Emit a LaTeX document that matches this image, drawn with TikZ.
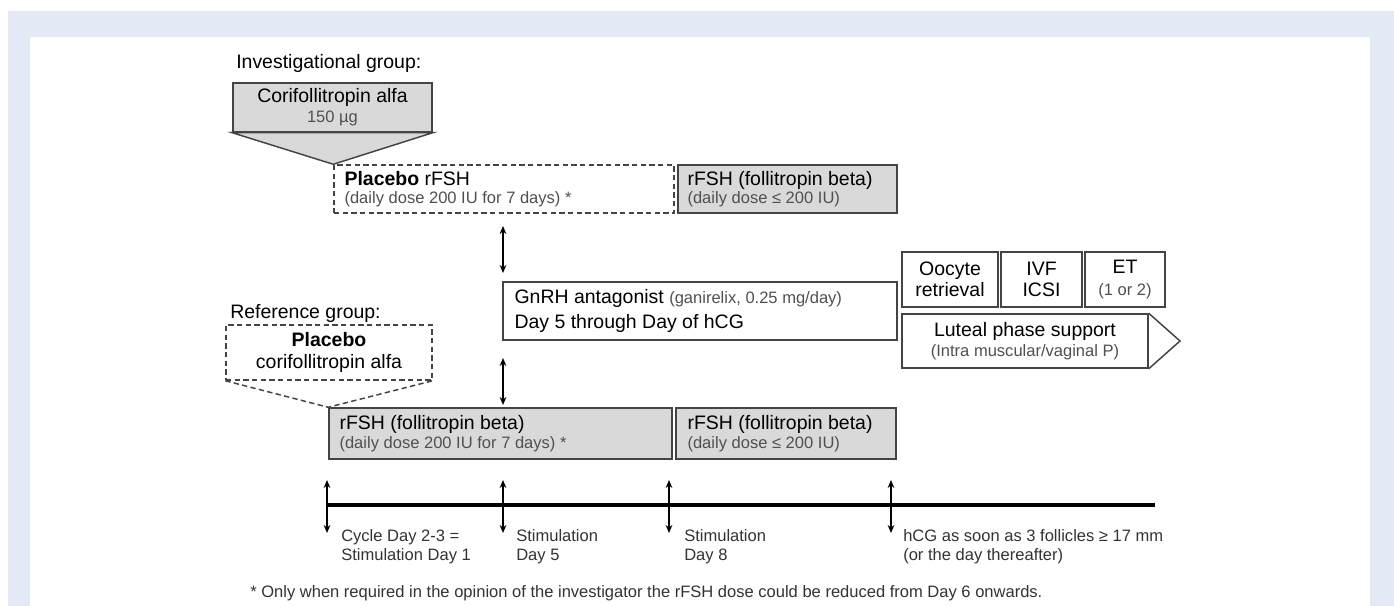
\documentclass[tikz,border=0pt]{standalone}
\usepackage{fontspec}
\setmainfont{Liberation Sans}
\usepackage{tikz}
\usetikzlibrary{arrows.meta, calc}

\definecolor{bgblue}{RGB}{228,234,245}
\definecolor{boxgray}{RGB}{217,217,217}
\definecolor{edgegray}{RGB}{68,68,68}
\definecolor{subgray}{RGB}{80,80,80}

\newcommand{\mainsz}{\fontsize{14.6}{14}\selectfont}
\newcommand{\subsz}{\fontsize{12.4}{14}\selectfont}
\newcommand{\pxu}{0.75pt}

\begin{document}
\begin{tikzpicture}[x=0.75pt, y=-0.75pt,
	box/.style={draw=edgegray, line width=1.1pt, inner sep=0pt},
	graybox/.style={box, fill=boxgray},
	dashbox/.style={box, dash pattern=on 4pt off 2.5pt, fill=white},
	txt/.style={inner sep=0pt, font=\mainsz, text=black},
	lab/.style={inner sep=0pt, font=\subsz, text=black!80, align=left},
	dblarrow/.style={{Stealth[length=6pt,width=5pt]}-{Stealth[length=6pt,width=5pt]}, line width=0.9pt}
]
	\useasboundingbox (0,0) rectangle (1394,606);
	\fill[bgblue] (8,11) rectangle (1394,606);
	\fill[white] (30,37) rectangle (1370,606);

	\node[txt, anchor=base west] (invlab) at (236,69) {Investigational group:};
	\node[dashbox, minimum width=340*\pxu, minimum height=48*\pxu] (plarfsh) at (504,189) {};
	\node[graybox, minimum width=219*\pxu, minimum height=48*\pxu] (rfshinv) at (787.5,189) {};
	\node[graybox, minimum width=199*\pxu, minimum height=49*\pxu] (cori) at (332.5,107.5) {};
	\filldraw[fill=boxgray, draw=edgegray, line width=1.1pt] (cori.south west) -- (plarfsh.north west) -- (cori.south east) -- cycle;
	\node[txt, align=center] (coritxt) at (cori) {Corifollitropin alfa\\[1pt]{\subsz\color{subgray}150 µg}};
	\node[txt, anchor=west, align=left] (plarfshtxt) at ($(plarfsh.west)+(11,0)$) {\textbf{Placebo} rFSH\\{\subsz\color{subgray}(daily dose 200 IU for 7 days) *}};
	\node[txt, anchor=west, align=left] (rfshinvtxt) at ($(rfshinv.west)+(10,0)$) {rFSH (follitropin beta)\\{\subsz\color{subgray}(daily dose ≤ 200 IU)}};

	\node[box, fill=white, minimum width=394*\pxu, minimum height=58*\pxu] (gnrh) at (700,311) {};
	\node[txt, anchor=west, align=left] (gnrhtxt) at ($(gnrh.west)+(12,0)$) {GnRH antagonist {\subsz\color{subgray}(ganirelix, 0.25 mg/day)}\\[5pt]Day 5 through Day of hCG};
	\coordinate (up1) at (503,226);
	\coordinate (dn1) at (503,273);
	\draw[dblarrow] (up1) -- (dn1);

	\node[box, minimum width=96*\pxu, minimum height=55*\pxu] (oocyte) at (950,279.5) {};
	\node[box, minimum width=81*\pxu, minimum height=55*\pxu] (ivf) at (1041.5,279.5) {};
	\node[box, minimum width=80*\pxu, minimum height=55*\pxu] (et) at (1125,279.5) {};
	\node[txt, align=center] (oocytetxt) at (oocyte) {Oocyte\\[2pt]retrieval};
	\node[txt, align=center] (ivftxt) at (ivf) {IVF\\[2pt]ICSI};
	\node[txt, align=center] (ettxt) at (et) {ET\\[2pt]{\subsz\color{subgray}(1 or 2)}};
	\node[box, minimum width=246*\pxu, minimum height=54*\pxu] (luteal) at (1025,341) {};
	\coordinate (lutip) at (1180,341);
	\draw[draw=edgegray, line width=1.1pt] (luteal.north east) -- (lutip) -- (luteal.south east);
	\node[txt, align=center] (luteatxt) at (luteal) {Luteal phase support\\[1pt]{\subsz\color{subgray}(Intra muscular/vaginal P)}};

	\node[txt, anchor=base west] (reflab) at (230,318) {Reference group:};
	\node[dashbox, minimum width=206*\pxu, minimum height=55*\pxu] (placori) at (329,352.5) {};
	\node[graybox, minimum width=343*\pxu, minimum height=51*\pxu] (rfshref) at (500.5,433.5) {};
	\node[graybox, minimum width=220*\pxu, minimum height=51*\pxu] (rfshref2) at (786,433.5) {};
	\draw[draw=edgegray, line width=1.1pt, dash pattern=on 4pt off 2.5pt] (placori.south west) -- (rfshref.north west) -- (placori.south east);
	\node[txt, align=center] (placoritxt) at (placori) {\textbf{Placebo}\\[2pt]corifollitropin alfa};
	\node[txt, anchor=west, align=left] (rfshreftxt) at ($(rfshref.west)+(11,0)$) {rFSH (follitropin beta)\\{\subsz\color{subgray}(daily dose 200 IU for 7 days) *}};
	\node[txt, anchor=west, align=left] (rfshref2txt) at ($(rfshref2.west)+(12,0)$) {rFSH (follitropin beta)\\{\subsz\color{subgray}(daily dose ≤ 200 IU)}};
	\coordinate (up2) at (503,358);
	\coordinate (dn2) at (503,405);
	\draw[dblarrow] (up2) -- (dn2);

	\coordinate (tl0) at (327,505);
	\coordinate (tl1) at (1155,505);
	\draw[line width=2.6pt] (tl0) -- (tl1);
	\foreach \x/\n in {327/a, 503/b, 669/c, 891/d} {
		\coordinate (top\n) at (\x,480);
		\coordinate (bot\n) at (\x,533);
		\draw[dblarrow] (top\n) -- (bot\n);
	}
	\node[lab, anchor=west] (laba) at (341,547) {Cycle Day 2-3 =\\Stimulation Day 1};
	\node[lab, anchor=west] (labb) at (516,547) {Stimulation\\Day 5};
	\node[lab, anchor=west] (labc) at (684,547) {Stimulation\\Day 8};
	\node[lab, anchor=west] (labd) at (903,547) {hCG as soon as 3 follicles ≥ 17 mm\\(or the day thereafter)};

	\node[lab, anchor=west] (fnote) at (250,593) {* Only when required in the opinion of the investigator the rFSH dose could be reduced from Day 6 onwards.};
\end{tikzpicture}
\end{document}
